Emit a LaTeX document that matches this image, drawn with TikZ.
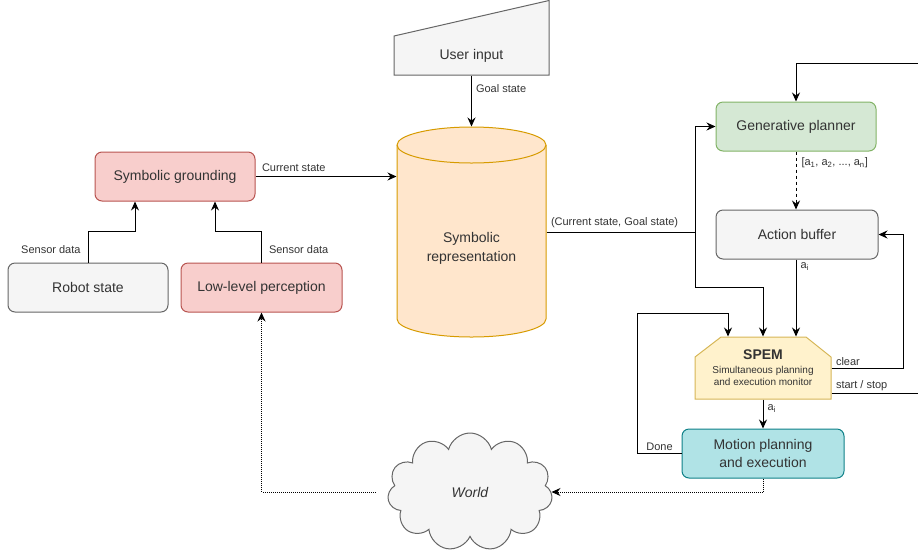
\documentclass[tikz,border=0pt]{standalone}
\usepackage{fontspec}
\setmainfont{Liberation Sans}
\usepackage{tikz}
\usetikzlibrary{shapes.symbols,arrows.meta,calc}

\definecolor{grayfill}{HTML}{F5F5F5}
\definecolor{grayline}{HTML}{666666}
\definecolor{redfill}{HTML}{F8CECC}
\definecolor{redline}{HTML}{B85450}
\definecolor{greenfill}{HTML}{D5E8D4}
\definecolor{greenline}{HTML}{82B366}
\definecolor{orangefill}{HTML}{FFE6CC}
\definecolor{orangeline}{HTML}{D79B00}
\definecolor{yellowfill}{HTML}{FFF2CC}
\definecolor{yellowline}{HTML}{D6B656}
\definecolor{tealfill}{HTML}{B0E3E6}
\definecolor{tealline}{HTML}{0E8088}
\definecolor{txt}{HTML}{333333}

\begin{document}
\begin{tikzpicture}[x=1pt, y=-1pt, line width=1pt,
    box/.style={rectangle, rounded corners=7pt, draw, minimum width=160pt, minimum height=49pt, align=center, text=txt, font=\fontsize{14}{18}\selectfont},
    lbl/.style={text=txt, font=\fontsize{11}{13}\selectfont, inner sep=2pt},
    arr/.style={-{Stealth[length=9pt,width=8pt,inset=3pt]}},
    obs/.style={arr, dash pattern=on 1pt off 1pt}]

    \clip (0,0) rectangle (918,558);

    % User input
    \filldraw[fill=grayfill, draw=grayline] (394,75) -- (394,36) -- (549,0.5) -- (549,75) -- cycle;
    \node (userin) [rectangle, minimum width=155pt, minimum height=39pt, text=txt, font=\fontsize{14}{18}\selectfont] at (471.5,55.5) {User input};

    % Symbolic representation
    \filldraw[fill=orangefill, draw=orangeline] (397,145) -- (397,319) arc[start angle=180, end angle=360, x radius=74.5pt, y radius=18pt] -- (546,145) arc[start angle=0, end angle=180, x radius=74.5pt, y radius=18pt] -- cycle;
    \draw[orangeline] (397,145) arc[start angle=180, end angle=360, x radius=74.5pt, y radius=18pt];
    \node (symrep) [rectangle, minimum width=149pt, minimum height=210pt] at (471.5,232) {};
    \node (symtext) [align=center, text=txt, font=\fontsize{14}{19}\selectfont] at (471.5,248) {Symbolic\\representation};

    % Grounding side
    \node (grounding) [box, fill=redfill, draw=redline] at (175,176.5) {Symbolic grounding};
    \node (robot) [box, fill=grayfill, draw=grayline] at (88,287.5) {Robot state};
    \node (lowlevel) [box, fill=redfill, draw=redline, minimum width=161pt] at (261.5,287.5) {Low-level perception};

    % Planning side
    \node (planner) [box, fill=greenfill, draw=greenline] at (796,126.5) {Generative planner};
    \node (buffer) [box, fill=grayfill, draw=grayline, minimum width=162pt] at (797,234.5) {Action buffer};
    \filldraw[fill=yellowfill, draw=yellowline] (695,399) -- (695,357) -- (721,337) -- (806,337) -- (831,357) -- (831,399) -- cycle;
    \node (spem) [rectangle, minimum width=136pt, minimum height=62pt, inner sep=0pt, align=center, text=txt] at (763,368)
        {\fontsize{14}{16}\selectfont\bfseries SPEM\\[2pt]{\fontsize{10}{16}\selectfont Simultaneous planning}\\{\fontsize{10}{16}\selectfont and execution monitor}};
    \node (motion) [box, fill=tealfill, draw=tealline, minimum width=162pt] at (763,453.5) {Motion planning\\and execution};

    % World
    \node (world) [cloud, cloud puffs=11, aspect=1.4, draw=grayline, fill=grayfill, minimum width=165pt, minimum height=118pt, text=txt, font=\itshape\fontsize{14}{18}\selectfont] at (470,492) {World};

    % Turning points at the right edge
    \coordinate (clearturn) at (903,0);
    \coordinate (stopturn) at (940,0);

    % Connections
    \draw[arr] (userin.south) -- node[lbl, right, pos=0.25, xshift=2pt] {Goal state} (symrep.north);
    \draw[arr] (grounding.east) -- node[lbl, above right, pos=0, xshift=4pt, yshift=2pt] {Current state} (grounding.east -| symrep.west);
    \draw[arr] (robot.north) -- node[lbl, left, pos=0.42, xshift=-5pt] {Sensor data} ++(0,-31) -| ([xshift=-40pt]grounding.south);
    \draw[arr] (lowlevel.north) -- node[lbl, right, pos=0.42, xshift=5pt] {Sensor data} ++(0,-31) -| ([xshift=40pt]grounding.south);

    \draw (symrep.east) -- node[lbl, above right, pos=0, xshift=2pt, yshift=2pt] {(Current state, Goal state)} ++(149,0) coordinate (split);
    \draw[arr] (split) |- (planner.west);
    \draw[arr] (split) -- ++(0,55) -| (spem.north);

    \draw[arr, dash pattern=on 3pt off 3pt] (planner.south) -- node[lbl, right, pos=0.2, xshift=3pt] {[a\textsubscript{1}, a\textsubscript{2}, ..., a\textsubscript{n}]} (planner.south |- buffer.north);
    \draw[arr] (buffer.south -| planner.south) -- node[lbl, right, pos=0.09, xshift=2pt] {a\textsubscript{i}} (planner.south |- spem.north);
    \draw[arr] (spem.east) -- node[lbl, above right, pos=0, xshift=2pt] {clear} (spem.east -| clearturn) |- (buffer.east);
    \draw[arr] ([yshift=-25pt]spem.east) -- node[lbl, above right, pos=0, xshift=2pt] {start / stop} ([yshift=-25pt]spem.east -| stopturn) |- ([yshift=38pt]planner.north) -| (planner.north);
    \draw[arr] (motion.west) -- node[lbl, above, pos=0.5] {Done} ++(-44,0) -- ++(0,-140.5) -| ([xshift=-35pt]spem.north);
    \draw[arr] (spem.south) -- node[lbl, right, pos=0.3, xshift=2pt] {a\textsubscript{i}} (motion.north);

    % Acting in the world
    \draw[obs] (motion.south) |- (world.east);
    \draw[obs, shorten <=13pt] (world.west) -| (lowlevel.south);
\end{tikzpicture}
\end{document}
